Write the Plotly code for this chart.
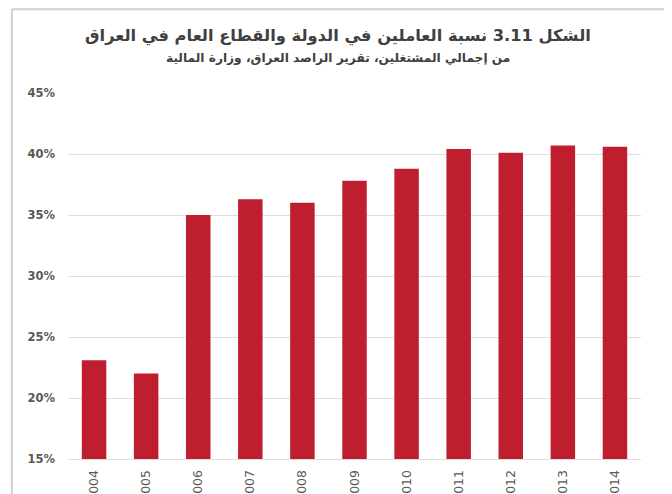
import plotly.graph_objects as go

years = ["2004", "2005", "2006", "2007", "2008", "2009", "2010", "2011", "2012", "2013", "2014"]
shares = [23.1, 22.0, 35.0, 36.3, 36.0, 37.8, 38.8, 40.4, 40.1, 40.7, 40.6]
y_ticks = [15, 20, 25, 30, 35, 40, 45]
y_tick_labels = ["15%", "20%", "25%", "30%", "35%", "40%", "45%"]

title_text = "الشكل 3.11 نسبة العاملين في الدولة والقطاع العام في العراق"
subtitle_text = "من إجمالي المشتغلين، تقرير الراصد العراق، وزارة المالية"

fig = go.Figure(
    go.Bar(
        x=years,
        y=shares,
        base=0,
        marker=dict(color="#BE1E2D", line=dict(width=0)),
        width=0.47,
    )
)

# page has an 8px body margin: figure is offset by 8px
fig.update_layout(
    width=664,
    height=486,
    margin=dict(l=60, r=31, t=85, b=35),
    paper_bgcolor="white",
    plot_bgcolor="white",
    showlegend=False,
    font=dict(family="DejaVu Sans, Arial", color="#595959"),
    annotations=[
        dict(
            text="<b>" + title_text + "</b>",
            xref="paper", yref="paper", x=0.472, y=1.156,
            xanchor="center", yanchor="middle", showarrow=False,
            font=dict(family="DejaVu Sans", size=16.3, color="#404040"),
        ),
        dict(
            text="<b>" + subtitle_text + "</b>",
            xref="paper", yref="paper", x=0.472, y=1.095,
            xanchor="center", yanchor="middle", showarrow=False,
            font=dict(family="DejaVu Sans", size=12.2, color="#404040"),
        ),
    ],
    shapes=[
        dict(type="line", xref="paper", yref="paper",
             x0=-0.098, x1=-0.098, y0=-0.2, y1=1.229,
             line=dict(color="#d0d0d0", width=2)),
        dict(type="line", xref="paper", yref="paper",
             x0=-0.098, x1=1.1, y0=1.229, y1=1.229,
             line=dict(color="#d0d0d0", width=2)),
    ],
)

fig.update_yaxes(
    range=[15, 45],
    tickvals=y_ticks,
    ticktext=["<b>" + t + "</b>" for t in y_tick_labels],
    showgrid=True,
    gridcolor="#dedede",
    gridwidth=1,
    zeroline=False,
    showline=False,
    ticks="",
    automargin=False,
    ticklabelstandoff=12,
    tickfont=dict(family="DejaVu Sans", size=11.5, color="#595959"),
)

fig.update_xaxes(
    type="category",
    tickangle=-90,
    showgrid=False,
    showline=True,
    linecolor="#dedede",
    linewidth=1,
    ticks="",
    automargin=False,
    ticklabelstandoff=5,
    tickfont=dict(family="DejaVu Sans", size=12.5, color="#595959"),
)

fig.write_html("out.html")
